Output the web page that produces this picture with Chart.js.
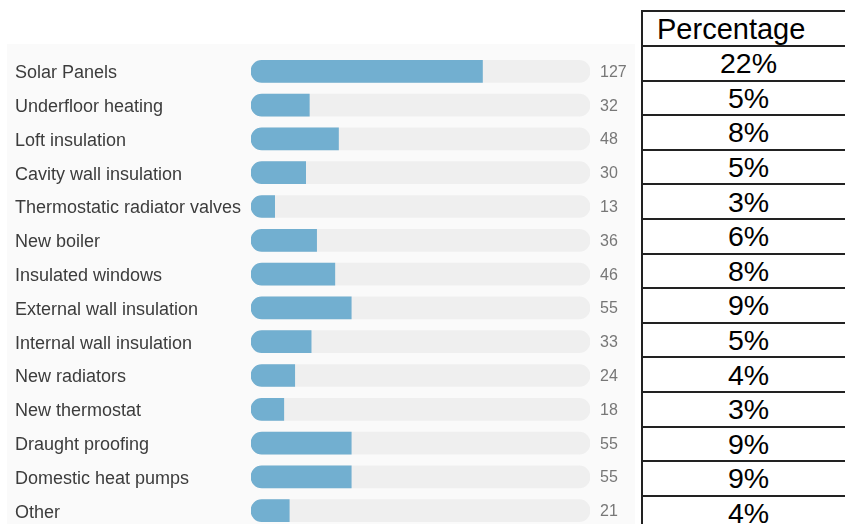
<!DOCTYPE html>
<html>
<head>
<meta charset="utf-8">
<script src="https://cdn.jsdelivr.net/npm/chart.js@4"></script>
<style>
    html, body { margin: 0; padding: 0; background: #fff; overflow: hidden; }
    body { width: 845px; height: 524px; position: relative; font-family: Arial, "Liberation Sans", sans-serif; }
    #panel { position: absolute; left: 7px; top: 44px; width: 628px; height: 500px; background: #fafafa; }
    #measures-chart { position: absolute; left: 8px; top: 44px; }
    #pct-table {
        position: absolute; left: 641px; top: 10px; width: 215px;
        border-collapse: collapse; background: #fff; color: #000;
    }
    #pct-table th, #pct-table td { border: 2px solid #222; padding: 0; }
    #pct-table th { height: 33px; font-size: 29px; font-weight: normal; text-align: left; padding-left: 14px; line-height: 30px; }
    #pct-table td { height: 32.6px; font-size: 28.5px; text-align: center; line-height: 30px; }
</style>
</head>
<body>
<div id="panel"></div>
<canvas id="measures-chart" width="627" height="490"></canvas>
<table id="pct-table">
    <thead><tr><th>Percentage</th></tr></thead>
    <tbody id="pct-body"></tbody>
</table>
<script>
const BAR_BLUE = "#72afd0";
const TRACK_GREY = "#efefef";

const MEASURES = [
    "Solar Panels", "Underfloor heating", "Loft insulation", "Cavity wall insulation",
    "Thermostatic radiator valves", "New boiler", "Insulated windows", "External wall insulation",
    "Internal wall insulation", "New radiators", "New thermostat", "Draught proofing",
    "Domestic heat pumps", "Other"
];
const COUNTS = [127, 32, 48, 30, 13, 36, 46, 55, 33, 24, 18, 55, 55, 21];
const PERCENTAGES = ["22%", "5%", "8%", "5%", "3%", "6%", "8%", "9%", "5%", "4%", "3%", "9%", "9%", "4%"];
const AXIS_MAX = 186;

// percentage column next to the chart
const tbody = document.getElementById("pct-body");
for (const pct of PERCENTAGES) {
    const row = document.createElement("tr");
    const cell = document.createElement("td");
    cell.innerText = pct;
    row.appendChild(cell);
    tbody.appendChild(row);
}

// counts written to the right of each track
const countLabels = {
    id: "countLabels",
    afterDatasetsDraw(chart) {
        const ctx = chart.ctx;
        const meta = chart.getDatasetMeta(1);
        ctx.save();
        ctx.font = "16px Arial, 'Liberation Sans', sans-serif";
        ctx.fillStyle = "#777";
        ctx.textAlign = "left";
        ctx.textBaseline = "middle";
        meta.data.forEach((bar, i) => {
            ctx.fillText(COUNTS[i], chart.chartArea.right + 10, bar.y + 1);
        });
        ctx.restore();
    }
};

new Chart(document.getElementById("measures-chart"), {
    type: "bar",
    data: {
        labels: MEASURES,
        datasets: [{
            label: "Count",
            data: COUNTS,
            backgroundColor: BAR_BLUE,
            borderRadius: 12,
            borderSkipped: "end",
            barThickness: 22,
            grouped: false,
            order: 0
        }, {
            label: "Track",
            data: MEASURES.map(() => AXIS_MAX),
            backgroundColor: TRACK_GREY,
            borderRadius: 12,
            borderSkipped: false,
            barThickness: 22,
            grouped: false,
            order: 1
        }]
    },
    options: {
        responsive: false,
        animation: false,
        indexAxis: "y",
        layout: { padding: { left: 7, right: 45, top: 10.4, bottom: 6.4 } },
        plugins: {
            legend: { display: false },
            tooltip: { enabled: false }
        },
        scales: {
            x: { display: false, min: 0, max: AXIS_MAX },
            y: {
                grid: { display: false },
                border: { display: false },
                ticks: {
                    autoSkip: false,
                    crossAlign: "far",
                    labelOffset: 2,
                    color: "#3c3c3c",
                    font: { family: "Arial, 'Liberation Sans', sans-serif", size: 18 }
                },
                afterFit(scale) {
                    scale.width = 236;
                    scale.paddingTop = 0;
                    scale.paddingBottom = 0;
                }
            }
        }
    },
    plugins: [countLabels]
});
</script>
</body>
</html>
